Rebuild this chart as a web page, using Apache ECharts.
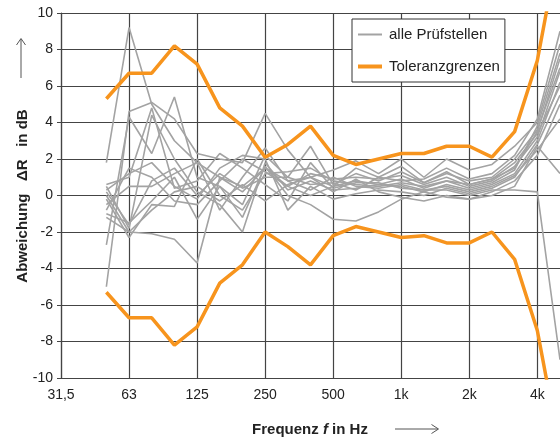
<!DOCTYPE html>
<html><head><meta charset="utf-8">
<script src="https://cdn.jsdelivr.net/npm/echarts@6/dist/echarts.min.js"></script>
<style>html,body{margin:0;padding:0;background:#fff}#c{width:560px;height:438px}</style>
</head><body><div id="c"></div>
<script>
// third-octave bands
const freqLabels = ['31,5','40','50','63','80','100','125','160','200','250','315','400','500','630','800','1k','1,25k','1,6k','2k','2,5k','3,15k','4k','5k'];
const yTicks = [-10,-8,-6,-4,-2,0,2,4,6,8,10];
// data start at 50 Hz (index 2)
const upperTol = [5.3,6.7,6.7,8.2,7.2,4.8,3.8,2.1,2.8,3.8,2.2,1.7,2.0,2.3,2.3,2.7,2.7,2.1,3.5,7.4,14.0];
const lowerTol = [-5.3,-6.7,-6.7,-8.2,-7.2,-4.8,-3.8,-2.0,-2.8,-3.8,-2.2,-1.7,-2.0,-2.3,-2.2,-2.6,-2.6,-2.0,-3.5,-7.4,-14.0];
const lab1  = [1.8,9.2,5.0,3.0,1.8,1.0,0.5,1.5,0.8,1.0,0.5,0.8,0.6,0.9,0.4,0.8,0.6,0.9,1.5,3.5,7.5];
const lab2  = [-5.0,4.6,5.1,4.2,2.3,2.0,1.8,4.5,2.5,1.0,1.4,1.9,1.2,2.0,1.0,2.0,1.4,1.7,2.7,4.0,8.3];
const lab3  = [-2.7,4.3,2.3,5.4,1.0,0.5,-0.5,2.2,1.0,2.7,0.6,1.2,0.8,1.3,0.7,1.2,0.8,1.0,2.0,3.6,7.0];
const lab4  = [0.5,-1.8,4.4,2.0,0.2,-0.5,-2.0,1.8,0.3,0.8,0.3,0.4,0.6,0.5,0.2,0.6,0.3,0.6,1.2,3.0,6.2];
const lab5  = [0.3,1.2,1.8,0.5,-0.2,1.5,2.2,2.0,-0.8,0.5,-0.2,0.1,0.3,0.2,0.0,0.4,0.1,0.4,1.0,2.8,5.5];
const lab6  = [0.0,-2.0,-2.1,-2.4,-3.7,1.0,0.2,1.5,0.5,1.2,0.9,1.0,0.9,1.1,0.6,1.0,0.5,0.8,1.6,3.2,6.8];
const lab7  = [-0.2,-2.3,-0.5,-0.6,2.0,0.0,-0.8,1.2,1.3,1.5,0.8,0.6,0.5,0.7,0.5,0.8,0.4,0.7,1.4,3.8,7.8];
const lab8  = [-0.5,0.5,0.5,1.2,1.8,-0.8,1.0,2.6,0.8,0.3,1.0,0.5,0.4,0.6,0.3,0.5,0.2,0.5,1.1,2.5,4.2];
const lab9  = [-1.0,-1.5,-0.3,1.0,-1.3,0.5,-1.2,1.6,0.0,-0.5,-1.3,-1.4,-0.9,-0.2,0.2,-0.1,-0.2,0.2,0.8,2.2,5.0];
const lab10 = [0.6,1.0,4.8,0.4,0.8,2.3,1.5,0.6,-0.3,1.8,0.4,0.7,0.7,0.4,0.3,0.3,0.0,0.3,0.3,0.2,-9.0];
const lab11 = [-1.2,-2.0,-0.8,0.2,0.5,-0.3,0.6,-0.3,0.6,1.0,0.2,0.9,0.2,-0.1,-0.3,0.0,-0.2,0.0,0.5,2.7,1.2];
const lab12 = [0.2,-1.6,0.8,1.5,0.0,1.2,0.4,1.0,1.0,0.6,0.7,0.3,1.0,0.8,0.9,1.5,0.9,1.2,2.2,4.2,9.0];
const lab13 = [-0.8,1.5,1.0,-0.3,-0.5,0.8,2.0,1.3,0.5,0.0,0.5,1.5,1.0,1.6,0.7,1.3,0.6,0.9,1.8,3.4,6.0];
const labs = [lab1,lab2,lab3,lab4,lab5,lab6,lab7,lab8,lab9,lab10,lab11,lab12,lab13];
const startIdx = 2;

const FONT = '"Liberation Sans", Arial, sans-serif';
const GRAY = '#a3a3a3', ORANGE = '#f7941d', GRID = '#444';
function pad(arr){ const a = new Array(startIdx).fill(null); return a.concat(arr); }

const series = [];
labs.forEach(d => series.push({
  name: 'alle Prüfstellen', type: 'line', data: pad(d), symbol: 'none',
  lineStyle: {color: GRAY, width: 1.6}, itemStyle: {color: GRAY}, z: 2, clip: true, silent: true
}));
[upperTol, lowerTol].forEach(d => series.push({
  name: 'Toleranzgrenzen', type: 'line', data: pad(d), symbol: 'none',
  lineStyle: {color: ORANGE, width: 3.5}, itemStyle: {color: ORANGE}, z: 3, clip: true, silent: true
}));

const chart = echarts.init(document.getElementById('c'), null, {renderer: 'canvas'});
chart.setOption({
  animation: false,
  backgroundColor: '#fff',
  textStyle: {fontFamily: FONT},
  grid: {left: 61, top: 13, right: -2, bottom: 60, containLabel: false},
  legend: {
    data: [
      {name: 'alle Prüfstellen', lineStyle: {width: 2, color: GRAY}},
      {name: 'Toleranzgrenzen', lineStyle: {width: 4, color: ORANGE}}
    ],
    orient: 'vertical', left: 352, top: 19,
    padding: [8, 5, 8, 4], itemGap: 17, itemWidth: 24, itemHeight: 14,
    backgroundColor: '#fff', borderColor: '#333', borderWidth: 1,
    itemStyle: {opacity: 0, borderWidth: 0},
    textStyle: {fontFamily: FONT, fontSize: 15, color: '#222', padding: [0,0,0,2]},
    selectedMode: false
  },
  xAxis: {
    type: 'category', data: freqLabels, boundaryGap: false,
    axisLine: {lineStyle: {color: GRID, width: 1.2}},
    axisTick: {show: true, interval: 2, length: 4, inside: false, lineStyle: {color: GRID}},
    axisLabel: {interval: 2, color: '#222', fontSize: 14, fontFamily: FONT, margin: 10},
    splitLine: {show: true, interval: 2, lineStyle: {color: GRID, width: 1.2}}
  },
  yAxis: {
    type: 'value', min: yTicks[0], max: yTicks[yTicks.length-1], interval: 2,
    axisLine: {show: true, lineStyle: {color: GRID, width: 1.2}},
    axisTick: {show: true, length: 4, lineStyle: {color: GRID}},
    axisLabel: {color: '#222', fontSize: 14, fontFamily: FONT, margin: 8},
    splitLine: {show: true, lineStyle: {color: GRID, width: 1.2}}
  },
  series: series,
  graphic: [
    {type: 'text', x: 23, y: 196, rotation: Math.PI/2,
     style: {text: 'Abweichung   ΔR   in dB', fill: '#222', font: 'bold 15px ' + FONT, align: 'center', verticalAlign: 'middle'}},
    {type: 'line', shape: {x1: 21, y1: 78, x2: 21, y2: 39}, style: {stroke: '#555', lineWidth: 1}},
    {type: 'polyline', shape: {points: [[16.5, 45], [21, 38.5], [25.5, 45]]}, style: {stroke: '#555', lineWidth: 1, fill: null}},
    {type: 'text', x: 310, y: 430,
     style: {text: '{b|Frequenz }{i|f}{b| in Hz}', align: 'center', verticalAlign: 'middle',
       rich: {b: {font: 'bold 15px ' + FONT, fill: '#222'}, i: {font: 'italic bold 15px ' + FONT, fill: '#222'}}}},
    {type: 'line', shape: {x1: 395, y1: 429, x2: 438, y2: 429}, style: {stroke: '#555', lineWidth: 1}},
    {type: 'polyline', shape: {points: [[431.5, 424.5], [438.5, 429], [431.5, 433.5]]}, style: {stroke: '#555', lineWidth: 1, fill: null}}
  ]
});
</script></body></html>
